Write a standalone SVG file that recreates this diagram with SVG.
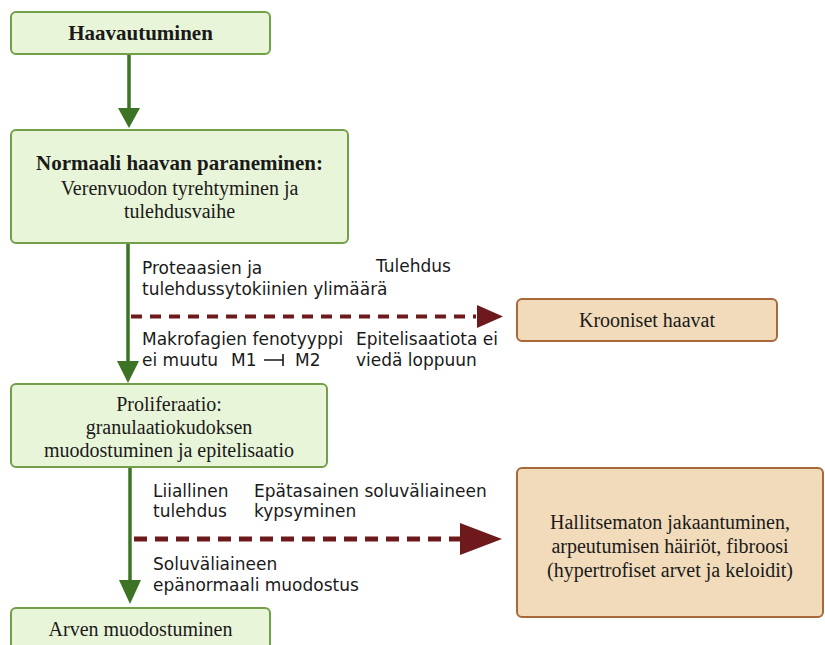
<svg xmlns="http://www.w3.org/2000/svg" width="825" height="645" viewBox="0 0 825 645">
<style>
.g{fill:#e9f5d9;stroke:#71a048;stroke-width:2}
.t{fill:#f1dbbb;stroke:#a8683a;stroke-width:2}
.sr{font-family:"Liberation Serif",serif;font-size:20px;fill:#1a1a1a;text-anchor:middle}
.b{font-weight:bold;font-size:21px}
.sn{font-family:"DejaVu Sans",sans-serif;font-size:17px;fill:#1a1a1a}
.gl{stroke:#3d7325;stroke-width:3.5;fill:none}
.ga{fill:#3d7325}
.rl{stroke:#6e1a1c;fill:none}
.ra{fill:#6e1a1c}
</style>
<rect width="825" height="645" fill="#ffffff"/>
<g id="connectors">
<line class="gl" x1="129" y1="54" x2="129" y2="110"/>
<polygon class="ga" points="118,108 140,108 129,128"/>
<line class="gl" x1="128" y1="243" x2="128" y2="363"/>
<polygon class="ga" points="117,361 139,361 128,383"/>
<line class="gl" x1="130" y1="467" x2="130" y2="582"/>
<polygon class="ga" points="119,580 141,580 130,604"/>
<line class="rl" x1="131" y1="316.5" x2="476" y2="316.5" stroke-width="4" stroke-dasharray="11,8"/>
<polygon class="ra" points="477,305 477,328 503,316.5"/>
<line class="rl" x1="134" y1="539" x2="460" y2="539" stroke-width="5" stroke-dasharray="13,8"/>
<polygon class="ra" points="460,523 460,555 502,539"/>
</g>
<g id="n1">
<rect class="g" x="11" y="12" width="259" height="42" rx="5"/>
<text class="sr b" x="140.5" y="40">Haavautuminen</text>
</g>
<g id="n2">
<rect class="g" x="11" y="130" width="337" height="113" rx="5"/>
<text class="sr b" x="179.5" y="170">Normaali haavan paraneminen:</text>
<text class="sr" x="179.5" y="195">Verenvuodon tyrehtyminen ja</text>
<text class="sr" x="179.5" y="218">tulehdusvaihe</text>
</g>
<g id="n3">
<rect class="g" x="11" y="384" width="316" height="83" rx="5"/>
<text class="sr" x="169" y="411">Proliferaatio:</text>
<text class="sr" x="169" y="434">granulaatiokudoksen</text>
<text class="sr" x="169" y="457">muodostuminen ja epitelisaatio</text>
</g>
<g id="n4">
<rect class="g" x="11" y="608" width="259" height="50" rx="5"/>
<text class="sr" x="140.5" y="636">Arven muodostuminen</text>
</g>
<g id="n5">
<rect class="t" x="517" y="299" width="260" height="42" rx="5"/>
<text class="sr" x="647" y="327">Krooniset haavat</text>
</g>
<g id="n6">
<rect class="t" x="517" y="468" width="306" height="149" rx="5"/>
<text class="sr" x="670" y="529">Hallitsematon jakaantuminen,</text>
<text class="sr" x="670" y="553">arpeutumisen häiriöt, fibroosi</text>
<text class="sr" x="670" y="577">(hypertrofiset arvet ja keloidit)</text>
</g>
<g id="labels">
<text class="sn" x="142" y="274">Proteaasien ja</text>
<text class="sn" x="142" y="295">tulehdussytokiinien ylimäärä</text>
<text class="sn" x="376" y="272">Tulehdus</text>
<text class="sn" x="142" y="345">Makrofagien fenotyyppi</text>
<text class="sn" x="142" y="366">ei muutu</text>
<text class="sn" x="231" y="366">M1</text>
<text class="sn" x="295" y="366">M2</text>
<path d="M264,360 H283 M283,354 V366" stroke="#1a1a1a" stroke-width="1.6" fill="none"/>
<text class="sn" x="356" y="345">Epitelisaatiota ei</text>
<text class="sn" x="356" y="366">viedä loppuun</text>
<text class="sn" x="153" y="497">Liiallinen</text>
<text class="sn" x="153" y="517">tulehdus</text>
<text class="sn" x="254" y="497">Epätasainen soluväliaineen</text>
<text class="sn" x="254" y="517">kypsyminen</text>
<text class="sn" x="153" y="570">Soluväliaineen</text>
<text class="sn" x="153" y="591">epänormaali muodostus</text>
</g>
</svg>
